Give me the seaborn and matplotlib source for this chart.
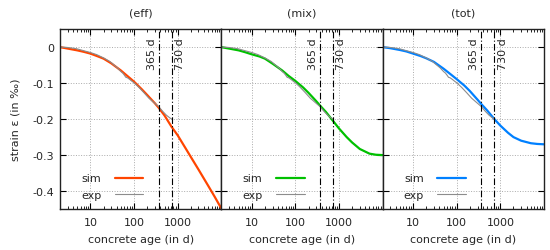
import matplotlib
matplotlib.use("Agg")
import matplotlib.pyplot as plt
import seaborn as sns
from matplotlib.ticker import LogLocator, NullFormatter

# time axis (concrete age in days)
age = [2, 3, 5, 7, 10, 15, 20, 30, 50, 70, 100, 150, 200, 300, 365, 500,
       730, 1000, 1500, 2000, 3000, 5000, 7000, 10000]

# simulated strain in permille
sim_eff = [0, -0.004, -0.009, -0.013, -0.018, -0.026, -0.032, -0.045, -0.065,
           -0.08, -0.096, -0.117, -0.133, -0.156, -0.168, -0.19, -0.222,
           -0.245, -0.28, -0.305, -0.34, -0.385, -0.415, -0.448]
sim_mix = [0, -0.004, -0.009, -0.014, -0.02, -0.026, -0.032, -0.046, -0.065,
           -0.08, -0.094, -0.112, -0.127, -0.15, -0.162, -0.18, -0.205,
           -0.226, -0.25, -0.265, -0.283, -0.296, -0.299, -0.30]
sim_tot = [0, -0.003, -0.008, -0.012, -0.018, -0.025, -0.031, -0.041, -0.06,
           -0.074, -0.089, -0.107, -0.122, -0.146, -0.158, -0.176, -0.2,
           -0.218, -0.238, -0.25, -0.26, -0.267, -0.269, -0.27]

# measured strain
exp_age = [2, 3, 4, 5, 7, 10, 14, 20, 28, 35, 42, 50, 55, 60, 65, 70, 80, 90,
           100, 130, 170, 220, 280, 365, 450, 550, 650, 730]
exp_strain = [0, -0.001, -0.003, -0.005, -0.01, -0.015, -0.021, -0.03, -0.04,
              -0.05, -0.058, -0.068, -0.072, -0.078, -0.084, -0.085, -0.09,
              -0.095, -0.099, -0.112, -0.127, -0.142, -0.153, -0.165, -0.178,
              -0.189, -0.196, -0.2]

panels = ["(eff)", "(mix)", "(tot)"]
sims = [sim_eff, sim_mix, sim_tot]
colors = ["#ff4500", "#00c000", "#0080ff"]
markers = [365, 730]

sns.set_theme(style="ticks")
plt.rcParams["font.family"] = ["DejaVu Sans"]
plt.rcParams["axes.unicode_minus"] = False
plt.rcParams["font.size"] = 8

fig, axes = plt.subplots(1, 3, figsize=(5.5, 2.51), dpi=100, sharey=True)
fig.subplots_adjust(left=0.109, right=0.989, top=0.88, bottom=0.163, wspace=0)

for i, ax in enumerate(axes):
    sns.lineplot(x=age, y=sims[i], ax=ax, color=colors[i], linewidth=1.6,
                 label="sim", sort=False)
    sns.lineplot(x=exp_age, y=exp_strain, ax=ax, color="#8c8c8c",
                 linewidth=0.8, label="exp", sort=False)
    ax.set_xscale("log")
    ax.set_xlim(2, 10000)
    ax.set_ylim(-0.45, 0.05)
    ax.set_xticks([10, 100, 1000])
    ax.set_xticklabels(["10", "100", "1000"])
    ax.xaxis.set_minor_locator(LogLocator(base=10, subs=range(2, 10), numticks=20))
    ax.xaxis.set_minor_formatter(NullFormatter())
    ax.set_yticks([0, -0.1, -0.2, -0.3, -0.4])
    ax.set_yticklabels(["0", "-0.1", "-0.2", "-0.3", "-0.4"])
    ax.grid(True, which="major", linestyle=":", color="#aaaaaa", linewidth=0.7)
    ax.tick_params(which="both", direction="in", top=True, right=True,
                   labelsize=8, color="black")
    ax.tick_params(which="major", length=4, width=0.8)
    ax.tick_params(which="minor", length=2, width=0.6)
    ax.tick_params(axis="x", which="major", pad=6)
    ax.tick_params(axis="y", which="major", pad=4)
    for s in ax.spines.values():
        s.set_linewidth(1.0)
        s.set_color("#222222")

    for d, dx in zip(markers, [-5, 6]):
        ax.axvline(d, color="black", linewidth=0.8, linestyle=(0, (6, 2, 1, 2)))
        ax.annotate(f"{d} d", xy=(d, 1), xycoords=ax.get_xaxis_transform(),
                    xytext=(dx, -6), textcoords="offset points",
                    rotation=90, ha="center", va="top", fontsize=8)

    ax.set_title(panels[i], fontsize=8, pad=10)
    ax.set_xlabel("concrete age (in d)", fontsize=8, labelpad=5)
    ax.legend(loc="lower left", bbox_to_anchor=(0.13, 0.05), frameon=False,
              markerfirst=False, handlelength=2.6, handletextpad=1.2,
              labelspacing=0.6, borderpad=0, borderaxespad=0, fontsize=8)

axes[0].set_ylabel("strain ε (in ‰)", fontsize=8, labelpad=9)

fig.savefig("out.png", dpi=100)
